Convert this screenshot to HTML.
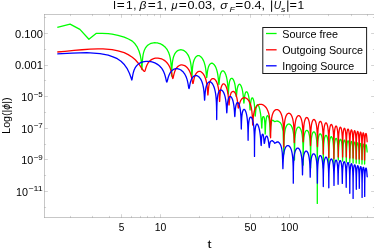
<!DOCTYPE html>
<html><head><meta charset="utf-8"><title>plot</title>
<style>html,body{margin:0;padding:0;background:#fff}body{width:374px;height:248px;overflow:hidden}svg{will-change:transform}</style></head>
<body>
<svg width="374" height="248" viewBox="0 0 374 248" style="display:block;font-family:'Liberation Sans',sans-serif">
<rect width="374" height="248" fill="#fff"/>
<path d="M44.5,14.5 L44.5,217.5 M44.0,217.5 L374.0,217.5 M44.0,14.5 L374.0,14.5" stroke="#000" stroke-opacity="0.22" stroke-width="1" fill="none"/>
<path d="M70.50,217.50 L70.50,215.90 M70.50,14.50 L70.50,16.10 M92.50,217.50 L92.50,215.90 M92.50,14.50 L92.50,16.10 M109.50,217.50 L109.50,215.90 M109.50,14.50 L109.50,16.10 M121.50,217.50 L121.50,214.20 M121.50,14.50 L121.50,17.80 M131.50,217.50 L131.50,215.90 M131.50,14.50 L131.50,16.10 M140.50,217.50 L140.50,215.90 M140.50,14.50 L140.50,16.10 M147.50,217.50 L147.50,215.90 M147.50,14.50 L147.50,16.10 M154.50,217.50 L154.50,215.90 M154.50,14.50 L154.50,16.10 M160.50,217.50 L160.50,214.20 M160.50,14.50 L160.50,17.80 M199.50,217.50 L199.50,215.90 M199.50,14.50 L199.50,16.10 M222.50,217.50 L222.50,215.90 M222.50,14.50 L222.50,16.10 M238.50,217.50 L238.50,215.90 M238.50,14.50 L238.50,16.10 M250.50,217.50 L250.50,214.20 M250.50,14.50 L250.50,17.80 M261.50,217.50 L261.50,215.90 M261.50,14.50 L261.50,16.10 M269.50,217.50 L269.50,215.90 M269.50,14.50 L269.50,16.10 M277.50,217.50 L277.50,215.90 M277.50,14.50 L277.50,16.10 M283.50,217.50 L283.50,215.90 M283.50,14.50 L283.50,16.10 M289.50,217.50 L289.50,214.20 M289.50,14.50 L289.50,17.80 M328.50,217.50 L328.50,215.90 M328.50,14.50 L328.50,16.10 M351.50,217.50 L351.50,215.90 M351.50,14.50 L351.50,16.10 M367.50,217.50 L367.50,215.90 M367.50,14.50 L367.50,16.10 M44.50,207.50 L46.10,207.50 M374.50,207.50 L372.90,207.50 M44.50,191.50 L47.90,191.50 M374.50,191.50 L371.10,191.50 M44.50,175.50 L46.10,175.50 M374.50,175.50 L372.90,175.50 M44.50,159.50 L47.90,159.50 M374.50,159.50 L371.10,159.50 M44.50,144.50 L46.10,144.50 M374.50,144.50 L372.90,144.50 M44.50,128.50 L47.90,128.50 M374.50,128.50 L371.10,128.50 M44.50,112.50 L46.10,112.50 M374.50,112.50 L372.90,112.50 M44.50,96.50 L47.90,96.50 M374.50,96.50 L371.10,96.50 M44.50,80.50 L46.10,80.50 M374.50,80.50 L372.90,80.50 M44.50,65.50 L47.90,65.50 M374.50,65.50 L371.10,65.50 M44.50,49.50 L46.10,49.50 M374.50,49.50 L372.90,49.50 M44.50,33.50 L47.90,33.50 M374.50,33.50 L371.10,33.50 M44.50,17.50 L46.10,17.50 M374.50,17.50 L372.90,17.50" stroke="#000" stroke-opacity="0.17" stroke-width="1" fill="none"/>
<g fill="none" stroke-linejoin="round" stroke-linecap="butt" stroke-width="1.3">
<path d="M57.30,27.30 L70.10,24.10 L79.90,29.40 L88.90,39.20 L96.40,33.30 L102.00,33.30 L108.20,33.60 L112.10,34.10 L118.00,35.30 L124.20,37.10 L128.50,39.00 L132.30,41.10 L135.00,43.80 L137.30,47.20 L139.00,51.00 L140.30,55.20 L141.10,60.00 L141.60,65.00 L141.90,69.50 L141.97,68.60 L142.20,63.51 L142.56,58.60 L143.07,54.94 L143.71,52.15 L144.46,49.95 L145.33,48.19 L146.30,46.77 L147.36,45.62 L148.49,44.70 L149.68,43.98 L150.92,43.44 L152.20,43.06 L153.50,42.84 L154.81,42.75 L156.12,42.79 L157.42,42.96 L158.70,43.26 L159.95,43.67 L161.16,44.20 L162.33,44.86 L163.45,45.63 L164.52,46.52 L165.52,47.54 L166.46,48.69 L167.32,49.98 L168.12,51.44 L168.84,53.09 L169.48,54.96 L170.03,57.12 L170.51,59.65 L170.90,62.72 L171.21,66.54 L171.42,71.33 L171.56,75.42 L171.60,76.00 L171.65,75.44 L171.79,71.42 L172.02,66.76 L172.33,63.11 L172.73,60.28 L173.22,58.01 L173.77,56.16 L174.39,54.65 L175.07,53.39 L175.81,52.36 L176.59,51.53 L177.40,50.87 L178.25,50.37 L179.12,50.02 L180.00,49.81 L180.89,49.75 L181.78,49.85 L182.66,50.08 L183.53,50.43 L184.38,50.91 L185.20,51.51 L186.00,52.22 L186.75,53.07 L187.47,54.04 L188.15,55.15 L188.77,56.41 L189.35,57.84 L189.87,59.45 L190.34,61.29 L190.75,63.40 L191.10,65.88 L191.38,68.80 L191.61,72.23 L191.77,75.64 L191.87,77.35 L191.90,77.50 L191.93,77.35 L192.03,75.68 L192.19,72.38 L192.41,69.11 L192.69,66.39 L193.02,64.14 L193.41,62.29 L193.85,60.76 L194.33,59.48 L194.85,58.42 L195.40,57.55 L195.98,56.86 L196.59,56.32 L197.21,55.94 L197.85,55.69 L198.49,55.58 L199.14,55.71 L199.79,56.01 L200.42,56.43 L201.05,56.98 L201.66,57.65 L202.25,58.44 L202.81,59.35 L203.35,60.38 L203.86,61.55 L204.33,62.85 L204.76,64.31 L205.16,65.94 L205.51,67.75 L205.82,69.76 L206.09,71.95 L206.31,74.19 L206.48,76.09 L206.60,77.17 L206.68,77.48 L206.70,77.50 L206.73,77.49 L206.80,77.24 L206.93,76.26 L207.11,74.55 L207.33,72.58 L207.61,70.71 L207.92,69.07 L208.27,67.67 L208.66,66.49 L209.08,65.53 L209.53,64.75 L210.01,64.14 L210.50,63.69 L211.01,63.39 L211.54,63.24 L212.07,63.21 L212.60,63.39 L213.13,63.70 L213.66,64.13 L214.18,64.68 L214.68,65.35 L215.17,66.15 L215.64,67.06 L216.09,68.10 L216.51,69.27 L216.91,70.58 L217.27,72.03 L217.60,73.64 L217.90,75.43 L218.16,77.40 L218.38,79.50 L218.57,81.57 L218.71,83.26 L218.82,84.19 L218.88,84.47 L218.90,84.50 L218.92,84.50 L218.98,84.32 L219.07,83.53 L219.21,82.04 L219.38,80.20 L219.58,78.40 L219.82,76.78 L220.08,75.38 L220.38,74.20 L220.70,73.23 L221.04,72.43 L221.40,71.81 L221.78,71.35 L222.17,71.03 L222.57,70.86 L222.98,70.82 L223.39,70.98 L223.80,71.27 L224.20,71.68 L224.61,72.22 L225.00,72.88 L225.38,73.66 L225.74,74.56 L226.09,75.59 L226.42,76.76 L226.73,78.06 L227.02,79.52 L227.28,81.16 L227.51,82.98 L227.72,85.04 L227.89,87.32 L228.04,89.75 L228.15,92.01 L228.23,93.48 L228.28,93.95 L228.30,94.00 L228.32,93.98 L228.37,93.58 L228.45,92.25 L228.56,90.18 L228.70,88.00 L228.87,86.02 L229.07,84.32 L229.30,82.88 L229.55,81.69 L229.82,80.70 L230.10,79.91 L230.41,79.29 L230.73,78.84 L231.06,78.53 L231.40,78.37 L231.74,78.32 L232.09,78.39 L232.44,78.59 L232.79,78.92 L233.13,79.37 L233.47,79.94 L233.79,80.64 L234.11,81.46 L234.40,82.41 L234.69,83.49 L234.95,84.71 L235.20,86.07 L235.42,87.59 L235.62,89.26 L235.80,91.05 L235.95,92.89 L236.07,94.56 L236.17,95.76 L236.24,96.33 L236.29,96.49 L236.30,96.50 L236.32,96.50 L236.36,96.39 L236.44,95.89 L236.54,94.84 L236.68,93.37 L236.84,91.78 L237.03,90.27 L237.24,88.93 L237.48,87.77 L237.74,86.79 L238.01,85.98 L238.30,85.34 L238.60,84.85 L238.92,84.51 L239.24,84.30 L239.57,84.23 L239.90,84.32 L240.23,84.62 L240.56,85.04 L240.88,85.59 L241.20,86.25 L241.51,87.04 L241.81,87.94 L242.09,88.97 L242.36,90.12 L242.62,91.41 L242.85,92.82 L243.06,94.38 L243.25,96.06 L243.42,97.84 L243.57,99.62 L243.69,101.18 L243.78,102.28 L243.85,102.82 L243.89,102.98 L243.90,103.00 L243.91,103.01 L243.95,102.93 L244.01,102.53 L244.10,101.63 L244.21,100.31 L244.34,98.83 L244.49,97.41 L244.66,96.12 L244.85,95.00 L245.06,94.07 L245.28,93.30 L245.52,92.70 L245.76,92.25 L246.02,91.94 L246.28,91.78 L246.55,91.75 L246.82,91.85 L247.09,92.08 L247.35,92.43 L247.62,92.90 L247.88,93.50 L248.14,94.22 L248.38,95.06 L248.61,96.03 L248.83,97.13 L249.04,98.36 L249.23,99.73 L249.41,101.25 L249.57,102.91 L249.71,104.68 L249.82,106.48 L249.92,108.09 L250.00,109.24 L250.06,109.81 L250.09,109.98 L250.10,110.00 L250.11,110.00 L250.14,109.91 L250.19,109.45 L250.26,108.46 L250.35,107.05 L250.46,105.49 L250.58,104.00 L250.72,102.66 L250.88,101.49 L251.05,100.50 L251.23,99.69 L251.42,99.03 L251.62,98.53 L251.83,98.17 L252.04,97.95 L252.26,97.86 L252.49,97.92 L252.71,98.11 L252.93,98.44 L253.15,98.88 L253.36,99.45 L253.57,100.14 L253.77,100.96 L253.97,101.91 L254.15,102.98 L254.32,104.20 L254.48,105.55 L254.63,107.06 L254.76,108.72 L254.87,110.50 L254.97,112.33 L255.05,113.99 L255.12,115.20 L255.16,115.80 L255.19,115.98 L255.20,116.00 L255.21,116.01 L255.25,115.91 L255.32,115.44 L255.41,114.41 L255.53,112.98 L255.67,111.43 L255.83,109.97 L256.01,108.68 L256.22,107.58 L256.44,106.66 L256.67,105.92 L256.92,105.35 L257.19,104.93 L257.46,104.67 L257.74,104.54 L258.02,104.69 L258.31,105.16 L258.60,105.75 L258.88,106.47 L259.17,107.31 L259.44,108.27 L259.71,109.33 L259.97,110.51 L260.22,111.80 L260.46,113.20 L260.68,114.72 L260.88,116.36 L261.07,118.12 L261.23,120.01 L261.38,121.99 L261.51,123.98 L261.61,125.77 L261.69,127.07 L261.75,127.74 L261.79,127.96 L261.80,128.00 L261.81,128.01 L261.83,127.94 L261.86,127.50 L261.91,126.50 L261.96,125.08 L262.03,123.53 L262.12,122.07 L262.21,120.77 L262.31,119.66 L262.42,118.74 L262.54,118.00 L262.67,117.43 L262.80,117.01 L262.94,116.74 L263.08,116.62 L263.23,116.64 L263.38,116.78 L263.53,116.71 L263.67,116.70 L263.82,116.82 L263.96,117.07 L264.10,117.45 L264.24,117.98 L264.37,118.64 L264.49,119.46 L264.61,120.44 L264.71,121.59 L264.81,122.94 L264.90,124.51 L264.98,126.31 L265.05,128.35 L265.10,130.51 L265.14,132.45 L265.17,133.62 L265.19,133.97 L265.20,134.00 L265.21,133.97 L265.24,133.62 L265.29,132.42 L265.36,130.43 L265.44,128.19 L265.55,126.06 L265.67,124.15 L265.81,122.46 L265.96,120.98 L266.13,119.69 L266.30,118.56 L266.49,117.59 L266.69,116.85 L266.89,116.36 L267.11,116.00 L267.32,115.78 L267.54,115.69 L267.76,115.73 L267.97,115.90 L268.19,116.19 L268.40,116.61 L268.60,117.16 L268.80,117.84 L268.99,118.67 L269.17,119.63 L269.34,120.75 L269.50,122.04 L269.64,123.52 L269.77,125.22 L269.88,127.16 L269.98,129.35 L270.06,131.74 L270.12,134.00 L270.16,135.49 L270.19,135.96 L270.20,136.00 L270.80,126.00 L271.80,120.20 L273.00,120.40 L274.80,121.70 L276.80,121.00 L278.60,121.40 L280.40,122.80 L281.80,125.30 L283.10,131.00 L283.80,154.00 L283.82,152.90 L283.89,147.31 L284.00,142.24 L284.15,138.47 L284.35,135.56 L284.58,133.22 L284.86,131.31 L285.16,129.71 L285.50,128.37 L285.87,127.26 L286.26,126.33 L286.67,125.58 L287.10,124.98 L287.55,124.53 L288.01,124.23 L288.47,124.05 L288.94,124.01 L289.41,124.10 L289.87,124.31 L290.32,124.64 L290.77,125.11 L291.20,125.70 L291.62,126.42 L292.01,127.29 L292.38,128.29 L292.73,129.46 L293.06,130.79 L293.35,132.33 L293.61,134.11 L293.84,136.19 L294.04,138.67 L294.21,141.71 L294.33,145.60 L294.43,150.95 L294.48,157.95 L294.50,160.00 L294.52,157.96 L294.57,151.00 L294.66,145.71 L294.78,141.89 L294.94,138.95 L295.13,136.60 L295.34,134.66 L295.59,133.04 L295.86,131.68 L296.16,130.54 L296.47,129.58 L296.80,128.80 L297.15,128.17 L297.51,127.69 L297.88,127.35 L298.26,127.15 L298.64,127.08 L299.02,127.17 L299.40,127.40 L299.77,127.74 L300.13,128.22 L300.48,128.82 L300.82,129.56 L301.15,130.43 L301.46,131.45 L301.74,132.62 L302.01,133.97 L302.25,135.52 L302.47,137.30 L302.66,139.39 L302.82,141.87 L302.96,144.92 L303.06,148.84 L303.14,154.26 L303.18,162.03 L303.20,165.00 L303.22,162.04 L303.26,154.31 L303.33,148.95 L303.44,145.12 L303.57,142.19 L303.73,139.84 L303.91,137.91 L304.12,136.30 L304.35,134.95 L304.60,133.81 L304.86,132.87 L305.14,132.10 L305.44,131.49 L305.74,131.02 L306.06,130.70 L306.38,130.51 L306.70,130.40 L307.02,130.40 L307.34,130.53 L307.66,130.78 L307.97,131.17 L308.27,131.68 L308.56,132.33 L308.84,133.12 L309.10,134.06 L309.35,135.16 L309.58,136.44 L309.78,137.93 L309.97,139.66 L310.13,141.70 L310.27,144.15 L310.39,147.16 L310.48,151.05 L310.55,156.49 L310.59,164.53 L310.60,168.00 L310.61,164.56 L310.65,156.52 L310.72,151.10 L310.81,147.24 L310.93,144.27 L311.07,141.89 L311.24,139.91 L311.43,138.25 L311.63,136.84 L311.86,135.65 L312.10,134.64 L312.35,133.81 L312.62,133.12 L312.89,132.58 L313.18,132.18 L313.47,131.91 L313.76,131.78 L314.05,131.81 L314.34,131.97 L314.63,132.26 L314.91,132.67 L315.18,133.22 L315.45,133.90 L315.70,134.71 L315.94,135.68 L316.16,136.80 L316.37,138.11 L316.56,139.62 L316.73,141.37 L316.88,143.42 L317.00,145.88 L317.11,148.91 L317.19,152.83 L317.25,158.37 L317.29,167.83 L317.30,203.40 L317.31,167.84 L317.35,158.40 L317.41,152.90 L317.49,149.03 L317.60,146.07 L317.72,143.70 L317.87,141.74 L318.04,140.09 L318.22,138.71 L318.42,137.53 L318.63,136.55 L318.86,135.74 L319.10,135.08 L319.35,134.56 L319.60,134.19 L319.86,133.95 L320.12,133.84 L320.38,133.85 L320.64,133.98 L320.90,134.24 L321.15,134.63 L321.40,135.16 L321.63,135.81 L321.86,136.61 L322.07,137.56 L322.27,138.66 L322.46,139.95 L322.63,141.44 L322.78,143.18 L322.92,145.22 L323.03,147.66 L323.13,150.68 L323.20,154.55 L323.26,159.83 L323.29,166.38 L323.30,168.00 L323.31,166.34 L323.34,159.83 L323.40,154.59 L323.47,150.76 L323.57,147.80 L323.69,145.42 L323.82,143.45 L323.97,141.80 L324.14,140.40 L324.32,139.21 L324.52,138.21 L324.73,137.37 L324.94,136.70 L325.17,136.16 L325.40,135.77 L325.64,135.51 L325.88,135.38 L326.12,135.38 L326.36,135.50 L326.59,135.75 L326.82,136.13 L327.05,136.65 L327.27,137.29 L327.47,138.08 L327.67,139.02 L327.86,140.12 L328.03,141.39 L328.18,142.88 L328.32,144.61 L328.45,146.64 L328.55,149.08 L328.64,152.08 L328.71,155.92 L328.76,161.07 L328.79,166.82 L328.80,168.00 L328.81,166.81 L328.84,161.08 L328.89,155.96 L328.96,152.15 L329.05,149.20 L329.16,146.82 L329.28,144.84 L329.42,143.18 L329.58,141.77 L329.75,140.58 L329.93,139.57 L330.12,138.73 L330.32,138.04 L330.53,137.50 L330.74,137.10 L330.96,136.83 L331.19,136.69 L331.41,136.68 L331.63,136.81 L331.85,137.09 L332.06,137.49 L332.27,138.03 L332.47,138.70 L332.67,139.51 L332.85,140.46 L333.02,141.58 L333.18,142.88 L333.33,144.38 L333.46,146.12 L333.57,148.16 L333.67,150.60 L333.75,153.57 L333.82,157.30 L333.86,161.90 L333.89,165.54 L333.90,166.00 L333.91,165.53 L333.93,161.90 L333.98,157.35 L334.04,153.67 L334.11,150.76 L334.21,148.40 L334.31,146.44 L334.43,144.79 L334.57,143.40 L334.71,142.22 L334.87,141.23 L335.03,140.40 L335.21,139.73 L335.39,139.20 L335.57,138.82 L335.76,138.56 L335.95,138.44 L336.14,138.43 L336.33,138.53 L336.52,138.76 L336.71,139.12 L336.89,139.61 L337.06,140.24 L337.23,141.01 L337.39,141.92 L337.54,143.00 L337.68,144.26 L337.80,145.71 L337.92,147.40 L338.02,149.36 L338.10,151.65 L338.17,154.28 L338.23,157.05 L338.27,159.20 L338.29,159.95 L338.30,160.00 L338.31,159.94 L338.33,159.17 L338.38,157.03 L338.43,154.29 L338.51,151.71 L338.60,149.46 L338.70,147.54 L338.82,145.90 L338.95,144.50 L339.09,143.30 L339.24,142.29 L339.41,141.44 L339.58,140.73 L339.75,140.18 L339.93,139.76 L340.12,139.47 L340.30,139.32 L340.49,139.29 L340.68,139.39 L340.86,139.62 L341.04,139.98 L341.22,140.47 L341.39,141.10 L341.56,141.87 L341.71,142.78 L341.86,143.86 L341.99,145.11 L342.11,146.56 L342.22,148.25 L342.32,150.21 L342.41,152.50 L342.48,155.12 L342.53,157.92 L342.57,160.13 L342.59,160.94 L342.60,161.00 L342.61,160.94 L342.63,160.14 L342.67,157.95 L342.72,155.17 L342.78,152.57 L342.86,150.32 L342.94,148.39 L343.05,146.75 L343.16,145.34 L343.28,144.14 L343.41,143.12 L343.55,142.26 L343.69,141.56 L343.84,141.00 L344.00,140.57 L344.16,140.28 L344.32,140.12 L344.48,140.09 L344.64,140.19 L344.80,140.41 L344.96,140.76 L345.11,141.25 L345.26,141.87 L345.40,142.63 L345.53,143.55 L345.66,144.62 L345.77,145.87 L345.88,147.32 L345.98,149.01 L346.06,150.97 L346.13,153.26 L346.19,155.91 L346.24,158.76 L346.27,161.07 L346.29,161.93 L346.30,162.00 L346.31,161.93 L346.33,161.08 L346.36,158.79 L346.41,155.96 L346.47,153.33 L346.54,151.07 L346.63,149.14 L346.72,147.49 L346.83,146.08 L346.94,144.88 L347.06,143.85 L347.20,142.99 L347.33,142.29 L347.48,141.72 L347.62,141.30 L347.77,141.01 L347.92,140.84 L348.08,140.81 L348.23,140.90 L348.38,141.13 L348.53,141.48 L348.67,141.96 L348.81,142.58 L348.95,143.34 L349.07,144.25 L349.19,145.32 L349.30,146.57 L349.40,148.02 L349.49,149.71 L349.57,151.66 L349.64,153.95 L349.70,156.58 L349.74,159.39 L349.77,161.62 L349.79,162.44 L349.80,162.50 L349.81,162.44 L349.83,161.62 L349.86,159.41 L349.90,156.62 L349.96,154.01 L350.03,151.75 L350.11,149.83 L350.20,148.18 L350.30,146.77 L350.40,145.57 L350.52,144.54 L350.64,143.68 L350.77,142.97 L350.91,142.41 L351.05,141.98 L351.19,141.69 L351.33,141.52 L351.47,141.49 L351.62,141.58 L351.76,141.80 L351.90,142.15 L352.04,142.64 L352.17,143.25 L352.29,144.01 L352.41,144.92 L352.52,145.99 L352.63,147.24 L352.72,148.68 L352.81,150.36 L352.88,152.32 L352.95,154.60 L353.00,157.21 L353.05,159.98 L353.08,162.15 L353.09,162.94 L353.10,163.00 L353.11,162.94 L353.12,162.16 L353.15,160.00 L353.20,157.25 L353.25,154.65 L353.31,152.40 L353.39,150.48 L353.47,148.83 L353.56,147.42 L353.67,146.22 L353.78,145.19 L353.89,144.33 L354.01,143.62 L354.14,143.06 L354.27,142.63 L354.40,142.33 L354.54,142.16 L354.67,142.13 L354.81,142.22 L354.94,142.44 L355.07,142.79 L355.20,143.27 L355.32,143.88 L355.44,144.64 L355.55,145.55 L355.66,146.61 L355.76,147.86 L355.85,149.30 L355.93,150.97 L356.00,152.91 L356.06,155.16 L356.11,157.71 L356.15,160.34 L356.18,162.28 L356.19,162.95 L356.20,163.00 L356.21,162.95 L356.22,162.28 L356.25,160.35 L356.29,157.75 L356.34,155.22 L356.41,152.99 L356.48,151.08 L356.56,149.44 L356.65,148.03 L356.75,146.83 L356.85,145.81 L356.97,144.94 L357.08,144.24 L357.20,143.68 L357.33,143.25 L357.46,142.96 L357.59,142.80 L357.72,142.77 L357.85,142.86 L357.98,143.09 L358.11,143.44 L358.23,143.93 L358.35,144.55 L358.46,145.31 L358.57,146.22 L358.68,147.29 L358.77,148.54 L358.86,149.98 L358.94,151.65 L359.00,153.59 L359.06,155.83 L359.11,158.36 L359.15,160.94 L359.18,162.81 L359.19,163.45 L359.20,163.50 L359.21,163.45 L359.22,162.82 L359.25,160.96 L359.29,158.40 L359.33,155.90 L359.39,153.69 L359.46,151.78 L359.53,150.14 L359.62,148.74 L359.71,147.54 L359.81,146.52 L359.91,145.66 L360.02,144.96 L360.14,144.39 L360.25,143.97 L360.37,143.67 L360.50,143.51 L360.62,143.48 L360.74,143.57 L360.86,143.79 L360.98,144.14 L361.09,144.63 L361.21,145.24 L361.31,146.00 L361.41,146.91 L361.51,147.98 L361.60,149.22 L361.68,150.67 L361.75,152.34 L361.82,154.27 L361.87,156.50 L361.92,159.01 L361.95,161.53 L361.98,163.35 L361.99,163.95 L362.00,164.00 L362.01,163.96 L362.02,163.35 L362.05,161.55 L362.08,159.04 L362.12,156.56 L362.18,154.35 L362.24,152.45 L362.31,150.82 L362.39,149.42 L362.47,148.21 L362.56,147.19 L362.66,146.33 L362.76,145.62 L362.87,145.06 L362.98,144.63 L363.09,144.33 L363.20,144.17 L363.32,144.13 L363.43,144.23 L363.54,144.44 L363.65,144.79 L363.76,145.28 L363.86,145.89 L363.96,146.65 L364.06,147.55 L364.14,148.62 L364.23,149.86 L364.30,151.29 L364.37,152.95 L364.43,154.87 L364.48,157.06 L364.52,159.49 L364.56,161.85 L364.58,163.45 L364.60,163.96 L364.60,164.00 L364.61,163.94 L364.62,163.38 L364.65,161.75 L364.68,159.42 L364.73,157.04 L364.78,154.89 L364.85,153.01 L364.92,151.40 L365.00,150.01 L365.09,148.81 L365.19,147.79 L365.29,146.94 L365.39,146.23 L365.50,145.66 L365.62,145.23 L365.73,144.94 L365.85,144.77 L365.97,144.72 L366.08,144.80 L366.20,145.00 L366.31,145.32 L366.43,145.76 L366.53,146.32 L366.64,146.98 L366.74,147.74 L366.83,148.57 L366.91,149.44 L366.99,150.28 L367.06,151.03 L367.12,151.61 L367.18,151.96 L367.22,152.12 L367.26,152.13 L367.28,152.08 L367.29,152.02 L367.30,152.00" stroke="#00ff00"/>
<path d="M57.30,52.00 L65.00,51.30 L74.00,50.40 L82.00,49.75 L90.00,49.20 L98.00,48.85 L103.00,48.85 L106.00,49.05 L112.10,49.60 L118.10,50.80 L124.20,52.70 L128.20,54.60 L132.30,57.20 L135.30,59.80 L138.30,63.20 L140.30,66.20 L142.30,69.30 L143.60,70.80 L144.60,71.30 L144.67,71.30 L144.88,71.09 L145.22,70.22 L145.69,68.65 L146.29,66.79 L147.00,65.00 L147.82,63.43 L148.73,62.09 L149.73,60.99 L150.79,60.08 L151.92,59.37 L153.09,58.82 L154.29,58.43 L155.52,58.19 L156.76,58.09 L158.01,58.12 L159.24,58.28 L160.46,58.56 L161.65,58.95 L162.80,59.47 L163.92,60.11 L164.99,60.86 L166.01,61.73 L166.97,62.73 L167.86,63.86 L168.70,65.12 L169.46,66.53 L170.15,68.10 L170.76,69.85 L171.30,71.76 L171.75,73.80 L172.13,75.79 L172.42,77.37 L172.63,78.23 L172.76,78.47 L172.80,78.50 L172.85,78.50 L172.98,78.31 L173.21,77.57 L173.52,76.15 L173.92,74.38 L174.40,72.61 L174.94,71.01 L175.56,69.61 L176.23,68.43 L176.96,67.44 L177.73,66.63 L178.54,65.99 L179.38,65.50 L180.24,65.15 L181.11,64.95 L181.99,64.89 L182.87,65.02 L183.75,65.27 L184.61,65.64 L185.45,66.14 L186.26,66.75 L187.05,67.48 L187.80,68.34 L188.51,69.32 L189.18,70.42 L189.80,71.66 L190.37,73.04 L190.89,74.57 L191.35,76.25 L191.76,78.04 L192.10,79.87 L192.39,81.53 L192.61,82.73 L192.77,83.32 L192.87,83.48 L192.90,83.50 L192.93,83.51 L193.03,83.43 L193.19,82.98 L193.42,81.96 L193.70,80.50 L194.04,78.91 L194.43,77.40 L194.88,76.04 L195.36,74.87 L195.89,73.89 L196.45,73.07 L197.04,72.42 L197.66,71.92 L198.29,71.56 L198.94,71.35 L199.59,71.28 L200.25,71.45 L200.90,71.74 L201.55,72.15 L202.18,72.69 L202.80,73.35 L203.39,74.13 L203.97,75.03 L204.51,76.06 L205.02,77.22 L205.50,78.52 L205.94,79.98 L206.34,81.61 L206.70,83.44 L207.01,85.50 L207.28,87.81 L207.50,90.33 L207.68,92.74 L207.80,94.38 L207.87,94.94 L207.90,95.00 L207.92,94.98 L208.00,94.53 L208.12,93.03 L208.29,90.80 L208.51,88.51 L208.76,86.48 L209.06,84.75 L209.40,83.29 L209.77,82.07 L210.18,81.07 L210.61,80.26 L211.06,79.63 L211.54,79.15 L212.02,78.83 L212.53,78.65 L213.03,78.60 L213.54,78.67 L214.05,78.85 L214.56,79.16 L215.06,79.59 L215.54,80.15 L216.01,80.83 L216.47,81.64 L216.90,82.57 L217.30,83.65 L217.68,84.88 L218.03,86.27 L218.35,87.84 L218.64,89.63 L218.89,91.66 L219.10,93.97 L219.28,96.52 L219.42,99.06 L219.52,100.84 L219.58,101.45 L219.60,101.50 L219.62,101.46 L219.68,100.90 L219.77,99.21 L219.91,96.81 L220.08,94.42 L220.28,92.32 L220.52,90.52 L220.78,89.01 L221.08,87.73 L221.40,86.66 L221.74,85.78 L222.10,85.07 L222.48,84.52 L222.87,84.12 L223.27,83.85 L223.68,83.79 L224.09,83.94 L224.50,84.22 L224.90,84.62 L225.31,85.15 L225.70,85.80 L226.08,86.57 L226.44,87.46 L226.79,88.48 L227.12,89.63 L227.43,90.92 L227.72,92.37 L227.98,93.97 L228.21,95.76 L228.42,97.73 L228.59,99.85 L228.74,101.97 L228.85,103.72 L228.93,104.69 L228.98,104.97 L229.00,105.00 L229.02,104.99 L229.08,104.77 L229.17,103.92 L229.30,102.37 L229.47,100.52 L229.67,98.72 L229.91,97.13 L230.17,95.77 L230.46,94.63 L230.78,93.69 L231.12,92.94 L231.47,92.37 L231.85,91.95 L232.23,91.69 L232.63,91.56 L233.03,91.45 L233.44,91.48 L233.84,91.63 L234.25,91.91 L234.64,92.31 L235.03,92.84 L235.41,93.49 L235.77,94.26 L236.12,95.17 L236.44,96.20 L236.75,97.37 L237.03,98.68 L237.29,100.13 L237.52,101.72 L237.72,103.39 L237.90,105.04 L238.04,106.47 L238.15,107.43 L238.23,107.87 L238.28,107.99 L238.30,108.00 L238.33,108.03 L238.42,108.03 L238.58,107.76 L238.79,107.01 L239.06,105.81 L239.39,104.41 L239.77,103.02 L240.19,101.77 L240.65,100.69 L241.16,99.80 L241.70,99.07 L242.26,98.51 L242.85,98.11 L243.46,97.85 L244.08,97.73 L244.70,97.75 L245.33,97.90 L245.96,98.15 L246.58,98.46 L247.19,98.90 L247.78,99.46 L248.36,100.14 L248.91,100.95 L249.43,101.89 L249.92,102.98 L250.38,104.21 L250.81,105.61 L251.19,107.20 L251.54,109.02 L251.84,111.11 L252.10,113.56 L252.32,116.46 L252.48,119.83 L252.60,123.16 L252.68,124.83 L252.70,125.00 L252.74,124.89 L252.86,123.33 L253.06,120.12 L253.33,116.90 L253.68,114.22 L254.10,112.03 L254.58,110.24 L255.11,108.77 L255.71,107.56 L256.35,106.58 L257.03,105.80 L257.74,105.20 L258.48,104.75 L259.24,104.46 L260.02,104.31 L260.80,104.30 L261.58,104.42 L262.36,104.65 L263.13,104.97 L263.88,105.41 L264.61,105.98 L265.32,106.67 L265.99,107.49 L266.63,108.43 L267.23,109.52 L267.79,110.76 L268.31,112.17 L268.78,113.77 L269.20,115.60 L269.56,117.72 L269.88,120.23 L270.14,123.28 L270.34,127.13 L270.48,132.12 L270.57,136.98 L270.60,137.80 L270.63,137.02 L270.71,132.21 L270.85,127.31 L271.05,123.59 L271.29,120.71 L271.59,118.40 L271.93,116.51 L272.31,114.94 L272.74,113.63 L273.20,112.55 L273.69,111.66 L274.20,110.94 L274.74,110.38 L275.29,109.97 L275.86,109.70 L276.44,109.57 L277.01,109.57 L277.59,109.68 L278.16,109.93 L278.72,110.29 L279.26,110.79 L279.79,111.41 L280.30,112.16 L280.78,113.05 L281.23,114.08 L281.66,115.27 L282.05,116.63 L282.41,118.18 L282.73,119.98 L283.01,122.08 L283.25,124.56 L283.44,127.61 L283.60,131.53 L283.71,136.93 L283.78,144.42 L283.80,147.00 L283.82,144.43 L283.89,136.99 L284.00,131.65 L284.15,127.83 L284.34,124.91 L284.57,122.56 L284.83,120.64 L285.13,119.04 L285.47,117.70 L285.83,116.57 L286.21,115.64 L286.62,114.88 L287.04,114.27 L287.48,113.82 L287.92,113.50 L288.38,113.32 L288.84,113.25 L289.30,113.29 L289.75,113.47 L290.20,113.77 L290.63,114.20 L291.06,114.76 L291.47,115.46 L291.85,116.29 L292.22,117.27 L292.56,118.40 L292.88,119.72 L293.17,121.23 L293.43,122.99 L293.65,125.04 L293.85,127.49 L294.01,130.46 L294.14,134.18 L294.23,138.69 L294.28,142.09 L294.30,142.50 L294.32,142.09 L294.37,138.70 L294.46,134.25 L294.59,130.60 L294.75,127.70 L294.94,125.35 L295.17,123.41 L295.42,121.78 L295.70,120.40 L296.00,119.24 L296.32,118.27 L296.66,117.47 L297.02,116.82 L297.39,116.31 L297.77,115.95 L298.15,115.72 L298.54,115.62 L298.93,115.65 L299.31,115.80 L299.69,116.08 L300.06,116.49 L300.43,117.03 L300.77,117.71 L301.10,118.52 L301.42,119.48 L301.71,120.60 L301.98,121.89 L302.23,123.39 L302.45,125.13 L302.65,127.16 L302.81,129.57 L302.95,132.46 L303.06,135.94 L303.14,139.60 L303.18,141.61 L303.20,141.80 L303.21,141.62 L303.26,139.63 L303.33,136.00 L303.43,132.57 L303.56,129.74 L303.72,127.41 L303.90,125.46 L304.10,123.82 L304.33,122.44 L304.58,121.26 L304.84,120.27 L305.12,119.44 L305.41,118.78 L305.71,118.25 L306.02,117.87 L306.33,117.62 L306.65,117.50 L306.97,117.53 L307.29,117.68 L307.60,117.96 L307.90,118.37 L308.20,118.91 L308.49,119.58 L308.76,120.39 L309.02,121.35 L309.26,122.47 L309.49,123.77 L309.69,125.27 L309.88,127.01 L310.04,129.05 L310.18,131.48 L310.29,134.42 L310.38,138.06 L310.45,142.30 L310.49,145.18 L310.50,145.50 L310.51,145.19 L310.56,142.33 L310.63,138.13 L310.72,134.54 L310.85,131.66 L311.00,129.32 L311.17,127.37 L311.37,125.73 L311.58,124.35 L311.82,123.18 L312.07,122.20 L312.33,121.39 L312.61,120.73 L312.90,120.21 L313.20,119.84 L313.50,119.60 L313.80,119.49 L314.11,119.52 L314.41,119.67 L314.71,119.95 L315.01,120.36 L315.29,120.90 L315.57,121.57 L315.83,122.39 L316.08,123.35 L316.31,124.47 L316.53,125.76 L316.72,127.26 L316.90,129.00 L317.06,131.04 L317.19,133.46 L317.30,136.38 L317.39,139.94 L317.45,143.88 L317.49,146.26 L317.50,146.50 L317.51,146.28 L317.55,143.92 L317.60,140.01 L317.68,136.50 L317.79,133.64 L317.91,131.29 L318.05,129.34 L318.21,127.70 L318.39,126.31 L318.58,125.13 L318.79,124.14 L319.01,123.32 L319.24,122.65 L319.48,122.12 L319.72,121.74 L319.97,121.49 L320.22,121.37 L320.48,121.37 L320.73,121.51 L320.98,121.77 L321.22,122.16 L321.46,122.68 L321.69,123.33 L321.91,124.13 L322.11,125.07 L322.31,126.18 L322.49,127.46 L322.65,128.96 L322.80,130.69 L322.93,132.73 L323.04,135.17 L323.13,138.17 L323.21,142.01 L323.26,147.15 L323.29,152.84 L323.30,154.00 L323.31,152.85 L323.34,147.18 L323.40,142.07 L323.47,138.26 L323.57,135.31 L323.69,132.94 L323.82,130.97 L323.97,129.31 L324.14,127.91 L324.32,126.73 L324.52,125.73 L324.73,124.89 L324.94,124.22 L325.17,123.68 L325.40,123.29 L325.64,123.03 L325.88,122.90 L326.12,122.91 L326.36,123.04 L326.59,123.31 L326.82,123.70 L327.05,124.22 L327.27,124.88 L327.47,125.68 L327.67,126.63 L327.86,127.74 L328.03,129.03 L328.18,130.52 L328.32,132.26 L328.45,134.30 L328.55,136.75 L328.64,139.76 L328.71,143.63 L328.76,148.93 L328.79,155.67 L328.80,157.50 L328.81,155.68 L328.84,148.95 L328.89,143.69 L328.96,139.85 L329.05,136.90 L329.16,134.52 L329.28,132.55 L329.42,130.89 L329.58,129.50 L329.75,128.31 L329.93,127.31 L330.12,126.48 L330.32,125.80 L330.53,125.27 L330.74,124.88 L330.96,124.63 L331.19,124.50 L331.41,124.50 L331.63,124.64 L331.85,124.90 L332.06,125.30 L332.27,125.82 L332.47,126.48 L332.67,127.28 L332.85,128.23 L333.02,129.34 L333.18,130.63 L333.33,132.12 L333.46,133.86 L333.57,135.90 L333.67,138.35 L333.75,141.35 L333.82,145.22 L333.86,150.48 L333.89,156.91 L333.90,158.50 L333.91,156.91 L333.93,150.50 L333.98,145.27 L334.04,141.45 L334.11,138.49 L334.21,136.11 L334.31,134.14 L334.43,132.48 L334.57,131.08 L334.71,129.89 L334.87,128.89 L335.03,128.05 L335.21,127.37 L335.39,126.84 L335.57,126.44 L335.76,126.18 L335.95,126.05 L336.14,126.04 L336.33,126.15 L336.52,126.40 L336.71,126.77 L336.89,127.27 L337.06,127.91 L337.23,128.70 L337.39,129.63 L337.54,130.72 L337.68,131.99 L337.80,133.47 L337.92,135.20 L338.02,137.22 L338.10,139.65 L338.17,142.64 L338.23,146.44 L338.27,151.39 L338.29,156.21 L338.30,157.00 L338.31,156.21 L338.33,151.40 L338.38,146.48 L338.43,142.71 L338.51,139.76 L338.60,137.38 L338.70,135.40 L338.82,133.74 L338.95,132.33 L339.09,131.13 L339.24,130.12 L339.41,129.27 L339.58,128.58 L339.75,128.04 L339.93,127.63 L340.12,127.35 L340.30,127.21 L340.49,127.20 L340.68,127.31 L340.86,127.55 L341.04,127.93 L341.22,128.43 L341.39,129.07 L341.56,129.85 L341.71,130.78 L341.86,131.87 L341.99,133.14 L342.11,134.62 L342.22,136.34 L342.32,138.37 L342.41,140.80 L342.48,143.77 L342.53,147.53 L342.57,152.28 L342.59,156.42 L342.60,157.00 L342.61,156.42 L342.63,152.30 L342.67,147.56 L342.72,143.83 L342.78,140.90 L342.86,138.51 L342.94,136.54 L343.05,134.87 L343.16,133.46 L343.28,132.25 L343.41,131.24 L343.55,130.38 L343.69,129.69 L343.84,129.13 L344.00,128.72 L344.16,128.44 L344.32,128.29 L344.48,128.27 L344.64,128.37 L344.80,128.60 L344.96,128.96 L345.11,129.45 L345.26,130.08 L345.40,130.84 L345.53,131.76 L345.66,132.84 L345.77,134.10 L345.88,135.57 L345.98,137.28 L346.06,139.30 L346.13,141.72 L346.19,144.67 L346.24,148.38 L346.27,152.95 L346.29,156.54 L346.30,157.00 L346.31,156.55 L346.33,152.96 L346.36,148.41 L346.41,144.72 L346.47,141.79 L346.54,139.41 L346.63,137.43 L346.72,135.76 L346.83,134.34 L346.94,133.13 L347.06,132.10 L347.20,131.24 L347.33,130.54 L347.48,129.98 L347.62,129.55 L347.77,129.26 L347.92,129.10 L348.08,129.07 L348.23,129.17 L348.38,129.40 L348.53,129.76 L348.67,130.25 L348.81,130.88 L348.95,131.65 L349.07,132.57 L349.19,133.65 L349.30,134.91 L349.40,136.38 L349.49,138.09 L349.57,140.11 L349.64,142.53 L349.70,145.48 L349.74,149.21 L349.77,153.81 L349.79,157.52 L349.80,158.00 L349.81,157.52 L349.83,153.82 L349.86,149.23 L349.90,145.53 L349.96,142.60 L350.03,140.22 L350.11,138.24 L350.20,136.57 L350.30,135.15 L350.40,133.94 L350.52,132.92 L350.64,132.06 L350.77,131.35 L350.91,130.79 L351.05,130.37 L351.19,130.08 L351.33,129.92 L351.47,129.89 L351.62,129.99 L351.76,130.22 L351.90,130.58 L352.04,131.07 L352.17,131.70 L352.29,132.47 L352.41,133.39 L352.52,134.47 L352.63,135.73 L352.72,137.20 L352.81,138.91 L352.88,140.93 L352.95,143.34 L353.00,146.29 L353.05,149.96 L353.08,154.37 L353.09,157.62 L353.10,158.00 L353.11,157.62 L353.12,154.39 L353.15,149.99 L353.20,146.33 L353.25,143.42 L353.31,141.04 L353.39,139.06 L353.47,137.39 L353.56,135.97 L353.67,134.77 L353.78,133.74 L353.89,132.88 L354.01,132.18 L354.14,131.62 L354.27,131.19 L354.40,130.91 L354.54,130.75 L354.67,130.72 L354.81,130.81 L354.94,131.04 L355.07,131.39 L355.20,131.88 L355.32,132.50 L355.44,133.27 L355.55,134.18 L355.66,135.26 L355.76,136.52 L355.85,137.99 L355.93,139.70 L356.00,141.71 L356.06,144.12 L356.11,147.07 L356.15,150.76 L356.18,155.22 L356.19,158.59 L356.20,159.00 L356.21,158.59 L356.22,155.23 L356.25,150.78 L356.29,147.11 L356.34,144.19 L356.41,141.81 L356.48,139.83 L356.56,138.16 L356.65,136.74 L356.75,135.52 L356.85,134.50 L356.97,133.64 L357.08,132.93 L357.20,132.36 L357.33,131.94 L357.46,131.65 L357.59,131.49 L357.72,131.45 L357.85,131.55 L357.98,131.78 L358.11,132.13 L358.23,132.62 L358.35,133.24 L358.46,134.01 L358.57,134.92 L358.68,136.00 L358.77,137.26 L358.86,138.72 L358.94,140.43 L359.00,142.45 L359.06,144.85 L359.11,147.78 L359.15,151.42 L359.18,155.70 L359.19,158.67 L359.20,159.00 L359.21,158.67 L359.22,155.71 L359.25,151.45 L359.29,147.83 L359.33,144.92 L359.39,142.54 L359.46,140.56 L359.53,138.89 L359.62,137.47 L359.71,136.26 L359.81,135.23 L359.91,134.37 L360.02,133.66 L360.14,133.09 L360.25,132.67 L360.37,132.37 L360.50,132.21 L360.62,132.18 L360.74,132.27 L360.86,132.50 L360.98,132.85 L361.09,133.33 L361.21,133.96 L361.31,134.72 L361.41,135.63 L361.51,136.71 L361.60,137.96 L361.68,139.43 L361.75,141.14 L361.82,143.15 L361.87,145.55 L361.92,148.48 L361.95,152.10 L361.98,156.32 L361.99,159.19 L362.00,159.50 L362.01,159.19 L362.02,156.33 L362.05,152.12 L362.08,148.52 L362.12,145.61 L362.18,143.24 L362.24,141.26 L362.31,139.59 L362.39,138.16 L362.47,136.95 L362.56,135.92 L362.66,135.06 L362.76,134.34 L362.87,133.78 L362.98,133.35 L363.09,133.05 L363.20,132.89 L363.32,132.85 L363.43,132.95 L363.54,133.17 L363.65,133.52 L363.76,134.01 L363.86,134.63 L363.96,135.39 L364.06,136.30 L364.14,137.38 L364.23,138.63 L364.30,140.09 L364.37,141.80 L364.43,143.81 L364.48,146.21 L364.52,149.13 L364.56,152.74 L364.58,156.92 L364.60,159.70 L364.60,160.00 L364.61,159.67 L364.62,156.87 L364.65,152.73 L364.68,149.15 L364.73,146.26 L364.78,143.89 L364.85,141.92 L364.92,140.25 L365.00,138.82 L365.09,137.61 L365.19,136.59 L365.29,135.72 L365.39,135.01 L365.50,134.45 L365.62,134.02 L365.73,133.72 L365.85,133.56 L365.97,133.52 L366.08,133.61 L366.20,133.82 L366.31,134.16 L366.43,134.62 L366.53,135.21 L366.64,135.91 L366.74,136.72 L366.83,137.63 L366.91,138.60 L366.99,139.57 L367.06,140.46 L367.12,141.16 L367.18,141.58 L367.22,141.74 L367.26,141.72 L367.28,141.62 L367.29,141.53 L367.30,141.50" stroke="#ff0000"/>
<path d="M57.30,53.80 L72.00,53.10 L86.80,52.70 L100.00,53.70 L108.20,55.10 L113.00,56.80 L117.30,58.70 L121.00,61.30 L124.50,64.80 L127.00,68.30 L129.40,73.20 L130.80,77.00 L131.80,80.00 L131.89,79.90 L132.17,78.65 L132.62,75.84 L133.25,72.84 L134.03,70.28 L134.97,68.19 L136.03,66.50 L137.22,65.12 L138.50,64.02 L139.87,63.14 L141.31,62.45 L142.80,61.95 L144.32,61.60 L145.87,61.40 L147.42,61.34 L148.97,61.42 L150.49,61.61 L151.99,61.93 L153.45,62.37 L154.86,62.92 L156.21,63.58 L157.51,64.37 L158.73,65.27 L159.88,66.29 L160.96,67.44 L161.95,68.72 L162.85,70.15 L163.67,71.74 L164.40,73.50 L165.03,75.43 L165.57,77.47 L166.01,79.45 L166.35,80.99 L166.60,81.78 L166.75,81.99 L166.80,82.00 L166.85,82.00 L167.01,81.83 L167.26,81.12 L167.62,79.75 L168.06,78.01 L168.60,76.26 L169.21,74.67 L169.90,73.29 L170.65,72.11 L171.47,71.12 L172.33,70.31 L173.23,69.67 L174.16,69.18 L175.11,68.84 L176.08,68.64 L177.06,68.63 L178.03,68.79 L178.99,69.07 L179.94,69.48 L180.86,70.01 L181.76,70.65 L182.62,71.41 L183.44,72.30 L184.22,73.30 L184.95,74.44 L185.63,75.71 L186.25,77.12 L186.81,78.69 L187.32,80.41 L187.76,82.29 L188.13,84.25 L188.44,86.11 L188.69,87.53 L188.86,88.26 L188.97,88.48 L189.00,88.50 L189.03,88.51 L189.14,88.40 L189.31,87.81 L189.54,86.58 L189.84,84.94 L190.19,83.23 L190.60,81.65 L191.07,80.26 L191.57,79.08 L192.12,78.09 L192.71,77.27 L193.33,76.62 L193.97,76.13 L194.63,75.78 L195.30,75.58 L195.98,75.52 L196.66,75.63 L197.34,75.87 L198.01,76.23 L198.67,76.72 L199.31,77.32 L199.93,78.05 L200.52,78.91 L201.09,79.89 L201.62,81.01 L202.11,82.28 L202.57,83.70 L202.98,85.31 L203.36,87.14 L203.68,89.22 L203.96,91.60 L204.19,94.29 L204.37,97.10 L204.50,99.30 L204.57,100.12 L204.60,100.20 L204.63,100.18 L204.70,99.49 L204.83,97.43 L205.01,94.75 L205.23,92.23 L205.50,90.07 L205.81,88.26 L206.16,86.75 L206.54,85.49 L206.96,84.45 L207.41,83.60 L207.88,82.92 L208.37,82.40 L208.88,82.04 L209.39,81.81 L209.92,81.72 L210.45,81.90 L210.98,82.22 L211.50,82.68 L212.01,83.25 L212.51,83.95 L213.00,84.77 L213.47,85.71 L213.91,86.77 L214.33,87.97 L214.72,89.32 L215.08,90.82 L215.41,92.51 L215.71,94.43 L215.97,96.63 L216.19,99.20 L216.37,102.32 L216.51,106.27 L216.62,111.57 L216.68,117.94 L216.70,119.50 L216.72,117.97 L216.78,111.69 L216.89,106.54 L217.03,102.81 L217.22,99.97 L217.44,97.72 L217.69,95.90 L217.98,94.42 L218.30,93.21 L218.64,92.23 L219.01,91.45 L219.40,90.85 L219.81,90.42 L220.23,90.14 L220.66,90.00 L221.10,90.00 L221.54,90.13 L221.98,90.38 L222.41,90.76 L222.85,91.26 L223.27,91.88 L223.67,92.63 L224.07,93.50 L224.44,94.50 L224.79,95.64 L225.12,96.92 L225.43,98.36 L225.71,99.98 L225.96,101.80 L226.18,103.86 L226.37,106.16 L226.52,108.63 L226.64,110.93 L226.73,112.37 L226.78,112.78 L226.80,112.80 L226.82,112.78 L226.87,112.36 L226.95,110.99 L227.06,108.87 L227.20,106.65 L227.37,104.63 L227.57,102.89 L227.80,101.42 L228.05,100.19 L228.32,99.17 L228.60,98.33 L228.91,97.67 L229.23,97.17 L229.56,96.81 L229.90,96.60 L230.24,96.53 L230.59,96.60 L230.94,96.82 L231.29,97.17 L231.63,97.64 L231.97,98.23 L232.29,98.95 L232.61,99.79 L232.90,100.77 L233.19,101.87 L233.45,103.12 L233.70,104.51 L233.92,106.08 L234.12,107.82 L234.30,109.73 L234.45,111.77 L234.57,113.78 L234.67,115.38 L234.74,116.24 L234.79,116.48 L234.80,116.50 L234.81,116.51 L234.85,116.35 L234.92,115.63 L235.01,114.18 L235.12,112.37 L235.26,110.55 L235.42,108.90 L235.60,107.47 L235.80,106.25 L236.02,105.22 L236.25,104.38 L236.50,103.71 L236.76,103.19 L237.02,102.82 L237.30,102.59 L237.58,102.50 L237.86,102.54 L238.14,102.74 L238.43,103.11 L238.71,103.59 L238.98,104.21 L239.24,104.94 L239.50,105.81 L239.74,106.80 L239.98,107.93 L240.19,109.21 L240.39,110.65 L240.58,112.28 L240.74,114.13 L240.89,116.25 L241.01,118.70 L241.11,121.55 L241.20,124.74 L241.25,127.61 L241.29,128.88 L241.30,129.00 L241.31,128.92 L241.35,127.77 L241.42,125.03 L241.52,122.01 L241.64,119.39 L241.78,117.21 L241.95,115.42 L242.14,113.95 L242.35,112.73 L242.58,111.74 L242.82,110.95 L243.08,110.34 L243.35,109.89 L243.63,109.59 L243.92,109.44 L244.21,109.43 L244.51,109.55 L244.80,109.80 L245.10,110.21 L245.39,110.74 L245.68,111.39 L245.95,112.17 L246.22,113.08 L246.48,114.11 L246.72,115.28 L246.94,116.59 L247.15,118.07 L247.35,119.74 L247.52,121.63 L247.67,123.80 L247.80,126.33 L247.91,129.36 L247.99,133.05 L248.05,137.24 L248.09,139.99 L248.10,140.30 L248.11,140.04 L248.15,137.40 L248.22,133.33 L248.30,129.84 L248.42,127.06 L248.55,124.83 L248.71,123.02 L248.89,121.53 L249.08,120.32 L249.30,119.33 L249.53,118.54 L249.77,117.94 L250.02,117.50 L250.29,117.21 L250.56,117.07 L250.83,117.06 L251.11,117.18 L251.39,117.40 L251.67,117.76 L251.94,118.23 L252.21,118.83 L252.47,119.56 L252.73,120.41 L252.97,121.40 L253.20,122.52 L253.41,123.80 L253.61,125.24 L253.79,126.87 L253.95,128.74 L254.09,130.89 L254.22,133.43 L254.32,136.53 L254.40,140.48 L254.45,145.92 L254.49,153.59 L254.50,156.40 L254.51,153.60 L254.55,146.02 L254.62,140.71 L254.71,136.93 L254.83,134.07 L254.97,131.80 L255.14,129.97 L255.33,128.46 L255.53,127.23 L255.76,126.22 L256.00,125.42 L256.25,124.79 L256.52,124.33 L256.79,124.02 L257.08,123.93 L257.37,124.19 L257.66,124.58 L257.95,125.10 L258.24,125.74 L258.53,126.51 L258.81,127.39 L259.08,128.39 L259.35,129.51 L259.60,130.74 L259.84,132.09 L260.06,133.57 L260.27,135.17 L260.46,136.90 L260.63,138.75 L260.78,140.67 L260.90,142.54 L261.01,144.10 L261.09,145.07 L261.15,145.45 L261.19,145.51 L261.20,145.50 L261.21,145.49 L261.22,145.40 L261.25,145.00 L261.30,144.14 L261.35,142.90 L261.41,141.49 L261.49,140.10 L261.57,138.83 L261.66,137.72 L261.77,136.78 L261.88,136.00 L261.99,135.38 L262.11,134.91 L262.24,134.58 L262.37,134.39 L262.50,134.34 L262.64,134.21 L262.77,134.20 L262.91,134.32 L263.04,134.56 L263.17,134.92 L263.30,135.40 L263.42,135.99 L263.54,136.70 L263.65,137.51 L263.76,138.41 L263.86,139.38 L263.95,140.38 L264.03,141.33 L264.10,142.16 L264.16,142.79 L264.21,143.18 L264.25,143.36 L264.28,143.41 L264.29,143.41 L264.30,143.40 L264.31,143.40 L264.34,143.40 L264.39,143.34 L264.46,143.16 L264.54,142.79 L264.65,142.22 L264.77,141.47 L264.91,140.63 L265.06,139.77 L265.23,138.95 L265.40,138.20 L265.59,137.55 L265.79,137.01 L265.99,136.58 L266.21,136.27 L266.42,136.08 L266.64,136.03 L266.86,136.16 L267.07,136.41 L267.29,136.78 L267.50,137.27 L267.70,137.86 L267.90,138.57 L268.09,139.39 L268.27,140.31 L268.44,141.32 L268.60,142.39 L268.74,143.51 L268.87,144.60 L268.98,145.59 L269.08,146.40 L269.16,146.96 L269.22,147.29 L269.26,147.44 L269.29,147.49 L269.30,147.50 L269.70,144.00 L270.30,141.80 L271.20,140.90 L272.40,140.70 L273.60,141.70 L274.80,143.30 L276.00,142.60 L277.20,141.90 L278.30,142.00 L279.60,143.20 L280.80,145.40 L281.70,148.50 L282.30,153.00 L282.60,160.00 L282.90,168.70 L282.92,168.56 L282.99,166.77 L283.09,163.29 L283.24,159.93 L283.43,157.14 L283.66,154.84 L283.92,152.94 L284.22,151.34 L284.55,150.00 L284.90,148.88 L285.29,147.95 L285.69,147.19 L286.11,146.58 L286.54,146.12 L286.98,145.81 L287.43,145.62 L287.89,145.57 L288.34,145.65 L288.79,145.84 L289.23,146.14 L289.67,146.57 L290.09,147.13 L290.49,147.83 L290.88,148.66 L291.24,149.64 L291.58,150.78 L291.89,152.09 L292.18,153.61 L292.44,155.37 L292.66,157.44 L292.85,159.90 L293.01,162.93 L293.14,166.83 L293.23,172.25 L293.28,180.09 L293.30,183.20 L293.32,180.10 L293.38,172.29 L293.47,166.92 L293.60,163.07 L293.77,160.13 L293.97,157.76 L294.20,155.81 L294.46,154.18 L294.75,152.81 L295.06,151.65 L295.39,150.68 L295.75,149.88 L296.11,149.23 L296.50,148.74 L296.89,148.38 L297.29,148.15 L297.69,148.06 L298.09,148.10 L298.49,148.30 L298.88,148.64 L299.26,149.10 L299.64,149.69 L300.00,150.42 L300.34,151.28 L300.66,152.28 L300.96,153.44 L301.24,154.78 L301.50,156.31 L301.73,158.08 L301.93,160.15 L302.10,162.58 L302.24,165.50 L302.36,168.99 L302.44,172.65 L302.48,174.63 L302.50,174.80 L302.52,174.62 L302.56,172.65 L302.64,169.06 L302.75,165.66 L302.89,162.85 L303.05,160.54 L303.24,158.63 L303.46,157.02 L303.70,155.66 L303.96,154.52 L304.23,153.57 L304.53,152.79 L304.83,152.17 L305.15,151.69 L305.48,151.35 L305.81,151.15 L306.15,151.08 L306.48,151.14 L306.82,151.33 L307.15,151.64 L307.47,152.08 L307.78,152.66 L308.08,153.36 L308.37,154.20 L308.64,155.19 L308.90,156.34 L309.14,157.66 L309.35,159.18 L309.55,160.93 L309.72,162.98 L309.86,165.39 L309.98,168.28 L310.08,171.70 L310.15,175.21 L310.19,177.03 L310.20,177.20 L310.21,177.05 L310.26,175.26 L310.33,171.81 L310.43,168.45 L310.56,165.66 L310.71,163.35 L310.89,161.43 L311.09,159.82 L311.31,158.46 L311.56,157.32 L311.81,156.36 L312.09,155.58 L312.38,154.95 L312.67,154.47 L312.98,154.12 L313.29,153.91 L313.60,153.82 L313.92,153.83 L314.23,153.98 L314.54,154.25 L314.84,154.66 L315.13,155.19 L315.41,155.86 L315.68,156.66 L315.94,157.62 L316.18,158.73 L316.40,160.03 L316.60,161.52 L316.79,163.26 L316.95,165.30 L317.08,167.74 L317.20,170.71 L317.28,174.44 L317.35,179.04 L317.39,182.72 L317.40,183.20 L317.41,182.73 L317.45,179.08 L317.51,174.50 L317.59,170.82 L317.69,167.90 L317.82,165.53 L317.96,163.57 L318.12,161.92 L318.30,160.53 L318.50,159.34 L318.71,158.34 L318.93,157.51 L319.17,156.84 L319.41,156.31 L319.66,155.92 L319.91,155.66 L320.17,155.54 L320.43,155.55 L320.68,155.68 L320.94,155.95 L321.19,156.34 L321.43,156.86 L321.66,157.52 L321.88,158.32 L322.09,159.27 L322.29,160.37 L322.47,161.66 L322.64,163.15 L322.79,164.89 L322.92,166.93 L323.04,169.37 L323.13,172.35 L323.20,176.15 L323.26,181.07 L323.29,185.75 L323.30,186.50 L323.31,185.76 L323.34,181.10 L323.40,176.21 L323.47,172.45 L323.57,169.51 L323.69,167.14 L323.82,165.18 L323.97,163.52 L324.14,162.13 L324.32,160.94 L324.52,159.94 L324.73,159.11 L324.94,158.44 L325.17,157.91 L325.40,157.51 L325.64,157.26 L325.88,157.13 L326.12,157.14 L326.36,157.29 L326.59,157.56 L326.82,157.96 L327.05,158.50 L327.27,159.17 L327.47,159.98 L327.67,160.93 L327.86,162.05 L328.03,163.34 L328.18,164.84 L328.32,166.59 L328.45,168.63 L328.55,171.07 L328.64,174.06 L328.71,177.85 L328.76,182.70 L328.79,187.13 L328.80,187.80 L328.81,187.13 L328.84,182.72 L328.89,177.91 L328.96,174.17 L329.05,171.24 L329.16,168.88 L329.29,166.92 L329.43,165.27 L329.59,163.88 L329.76,162.71 L329.95,161.72 L330.15,160.90 L330.35,160.23 L330.56,159.71 L330.78,159.33 L331.01,159.09 L331.23,158.97 L331.46,158.99 L331.69,159.11 L331.91,159.36 L332.13,159.74 L332.34,160.26 L332.55,160.90 L332.74,161.69 L332.93,162.63 L333.11,163.72 L333.27,165.00 L333.42,166.48 L333.55,168.20 L333.67,170.22 L333.77,172.63 L333.85,175.53 L333.92,179.06 L333.96,182.92 L333.99,185.18 L334.00,185.40 L334.01,185.18 L334.03,182.92 L334.07,179.09 L334.13,175.60 L334.20,172.73 L334.28,170.38 L334.38,168.42 L334.50,166.76 L334.62,165.35 L334.75,164.15 L334.90,163.14 L335.05,162.29 L335.21,161.60 L335.38,161.05 L335.55,160.64 L335.73,160.36 L335.91,160.21 L336.09,160.19 L336.27,160.27 L336.44,160.48 L336.62,160.82 L336.78,161.29 L336.95,161.89 L337.10,162.64 L337.25,163.54 L337.39,164.60 L337.52,165.84 L337.64,167.29 L337.74,168.98 L337.83,170.96 L337.91,173.32 L337.98,176.13 L338.03,179.42 L338.07,182.64 L338.09,184.17 L338.10,184.30 L338.11,184.16 L338.13,182.62 L338.17,179.42 L338.23,176.14 L338.30,173.34 L338.39,171.00 L338.49,169.03 L338.61,167.36 L338.74,165.93 L338.87,164.71 L339.02,163.67 L339.18,162.80 L339.35,162.07 L339.52,161.50 L339.69,161.05 L339.87,160.74 L340.06,160.58 L340.24,160.57 L340.42,160.68 L340.60,160.93 L340.78,161.30 L340.95,161.81 L341.12,162.45 L341.28,163.23 L341.43,164.16 L341.57,165.25 L341.70,166.52 L341.82,167.99 L341.93,169.69 L342.03,171.68 L342.11,174.00 L342.18,176.71 L342.23,179.70 L342.27,182.22 L342.29,183.22 L342.30,183.30 L342.31,183.23 L342.33,182.25 L342.37,179.75 L342.42,176.79 L342.49,174.12 L342.57,171.84 L342.66,169.91 L342.77,168.27 L342.89,166.87 L343.02,165.68 L343.15,164.67 L343.30,163.83 L343.45,163.14 L343.61,162.59 L343.78,162.18 L343.94,161.91 L344.11,161.76 L344.28,161.74 L344.45,161.84 L344.62,162.07 L344.79,162.43 L344.95,162.92 L345.10,163.55 L345.25,164.31 L345.39,165.23 L345.52,166.31 L345.65,167.57 L345.76,169.04 L345.86,170.75 L345.95,172.75 L346.02,175.13 L346.09,178.01 L346.14,181.45 L346.17,185.10 L346.19,187.11 L346.20,187.30 L346.21,187.12 L346.23,185.14 L346.26,181.51 L346.31,178.07 L346.37,175.22 L346.45,172.87 L346.54,170.90 L346.63,169.23 L346.74,167.82 L346.86,166.61 L346.99,165.59 L347.12,164.73 L347.26,164.02 L347.41,163.46 L347.56,163.04 L347.72,162.75 L347.87,162.59 L348.03,162.56 L348.19,162.66 L348.34,162.90 L348.49,163.28 L348.64,163.78 L348.78,164.42 L348.92,165.21 L349.05,166.14 L349.17,167.23 L349.29,168.51 L349.39,169.99 L349.48,171.71 L349.57,173.74 L349.64,176.17 L349.69,179.15 L349.74,182.94 L349.77,187.86 L349.79,192.54 L349.80,193.30 L349.81,192.56 L349.83,187.89 L349.86,182.99 L349.90,179.22 L349.96,176.28 L350.03,173.90 L350.11,171.92 L350.20,170.26 L350.30,168.84 L350.40,167.64 L350.52,166.63 L350.64,165.78 L350.77,165.09 L350.91,164.54 L351.05,164.13 L351.19,163.85 L351.33,163.71 L351.47,163.69 L351.62,163.81 L351.76,164.05 L351.90,164.42 L352.04,164.93 L352.17,165.57 L352.29,166.35 L352.41,167.28 L352.52,168.37 L352.63,169.65 L352.72,171.13 L352.81,172.85 L352.88,174.89 L352.95,177.32 L353.00,180.33 L353.05,184.20 L353.08,189.51 L353.09,196.42 L353.10,198.40 L353.11,196.42 L353.13,189.53 L353.16,184.23 L353.20,180.39 L353.25,177.43 L353.32,175.04 L353.40,173.06 L353.48,171.40 L353.58,169.98 L353.69,168.78 L353.80,167.77 L353.92,166.92 L354.04,166.23 L354.17,165.69 L354.31,165.28 L354.44,165.00 L354.58,164.86 L354.72,164.83 L354.86,164.94 L355.00,165.17 L355.14,165.53 L355.27,166.02 L355.39,166.65 L355.52,167.42 L355.63,168.34 L355.74,169.42 L355.84,170.68 L355.93,172.14 L356.02,173.85 L356.09,175.85 L356.15,178.22 L356.21,181.06 L356.25,184.38 L356.28,187.64 L356.29,189.18 L356.30,189.30 L356.31,189.16 L356.32,187.59 L356.35,184.36 L356.39,181.08 L356.44,178.28 L356.51,175.95 L356.58,174.00 L356.66,172.34 L356.75,170.92 L356.85,169.72 L356.95,168.70 L357.07,167.84 L357.18,167.14 L357.30,166.58 L357.43,166.16 L357.56,165.87 L357.69,165.72 L357.82,165.70 L357.95,165.80 L358.08,166.04 L358.21,166.40 L358.33,166.90 L358.45,167.53 L358.56,168.30 L358.67,169.22 L358.78,170.30 L358.87,171.56 L358.96,173.02 L359.04,174.72 L359.10,176.70 L359.16,179.02 L359.21,181.73 L359.25,184.71 L359.28,187.23 L359.29,188.22 L359.30,188.30 L359.31,188.24 L359.32,187.28 L359.35,184.78 L359.39,181.81 L359.43,179.13 L359.49,176.84 L359.56,174.90 L359.63,173.25 L359.72,171.84 L359.81,170.64 L359.91,169.62 L360.01,168.77 L360.12,168.07 L360.24,167.51 L360.35,167.09 L360.47,166.80 L360.60,166.64 L360.72,166.60 L360.84,166.70 L360.96,166.92 L361.08,167.27 L361.19,167.76 L361.31,168.38 L361.41,169.14 L361.51,170.06 L361.61,171.13 L361.70,172.39 L361.78,173.86 L361.85,175.57 L361.92,177.59 L361.97,180.01 L362.02,182.98 L362.05,186.78 L362.08,191.73 L362.09,196.58 L362.10,197.40 L362.11,196.59 L362.12,191.75 L362.15,186.81 L362.18,183.03 L362.22,180.07 L362.28,177.68 L362.34,175.69 L362.41,174.02 L362.49,172.59 L362.57,171.38 L362.66,170.35 L362.76,169.48 L362.86,168.77 L362.97,168.20 L363.08,167.77 L363.19,167.48 L363.30,167.32 L363.42,167.29 L363.53,167.39 L363.64,167.62 L363.75,167.97 L363.86,168.46 L363.96,169.09 L364.06,169.85 L364.16,170.77 L364.24,171.85 L364.33,173.11 L364.40,174.57 L364.47,176.29 L364.53,178.30 L364.58,180.72 L364.62,183.68 L364.66,187.41 L364.68,192.06 L364.70,195.89 L364.70,196.40 L364.71,195.86 L364.72,192.03 L364.75,187.41 L364.78,183.71 L364.82,180.78 L364.88,178.40 L364.94,176.42 L365.01,174.75 L365.09,173.33 L365.17,172.12 L365.26,171.09 L365.36,170.23 L365.46,169.52 L365.57,168.96 L365.68,168.54 L365.79,168.24 L365.90,168.08 L366.02,168.05 L366.13,168.14 L366.24,168.36 L366.35,168.70 L366.46,169.17 L366.56,169.77 L366.66,170.48 L366.76,171.32 L366.84,172.25 L366.93,173.26 L367.00,174.30 L367.07,175.26 L367.13,176.04 L367.18,176.53 L367.22,176.73 L367.26,176.73 L367.28,176.63 L367.30,176.54 L367.30,176.50" stroke="#0000ff"/>
</g>
<g fill="#000" font-size="10.5">
<text x="15.0" y="37.7" textLength="28.0" lengthAdjust="spacingAndGlyphs">0.100</text>
<text x="15.0" y="69.3" textLength="28.0" lengthAdjust="spacingAndGlyphs">0.001</text>
<text x="21.3" y="100.9" textLength="12.0" lengthAdjust="spacingAndGlyphs">10</text>
<text x="33.7" y="96.6" font-size="7.7" textLength="9.1" lengthAdjust="spacingAndGlyphs">−5</text>
<text x="21.3" y="132.5" textLength="12.0" lengthAdjust="spacingAndGlyphs">10</text>
<text x="33.7" y="128.2" font-size="7.7" textLength="9.1" lengthAdjust="spacingAndGlyphs">−7</text>
<text x="21.3" y="164.1" textLength="12.0" lengthAdjust="spacingAndGlyphs">10</text>
<text x="33.7" y="159.8" font-size="7.7" textLength="9.1" lengthAdjust="spacingAndGlyphs">−9</text>
<text x="16.0" y="195.8" textLength="12.0" lengthAdjust="spacingAndGlyphs">10</text>
<text x="28.4" y="191.4" font-size="7.7" textLength="14.4" lengthAdjust="spacingAndGlyphs">−11</text>
<text x="118.7" y="230.5" textLength="5.6" lengthAdjust="spacingAndGlyphs">5</text>
<text x="154.7" y="230.5" textLength="11.6" lengthAdjust="spacingAndGlyphs">10</text>
<text x="244.6" y="230.5" textLength="11.8" lengthAdjust="spacingAndGlyphs">50</text>
<text x="280.8" y="230.5" textLength="17.4" lengthAdjust="spacingAndGlyphs">100</text>
<text x="207.6" y="248.3" textLength="4.0" lengthAdjust="spacingAndGlyphs">t</text>
<text transform="translate(9.7,133.8) rotate(-90)" textLength="36.4" lengthAdjust="spacingAndGlyphs">Log(|<tspan font-style="italic">ϕ</tspan>|)</text>
</g>
<g fill="#000" font-size="10.5">
<text x="113.3" y="9.3" textLength="2.6" lengthAdjust="spacingAndGlyphs" >l</text>
<text x="116.7" y="9.3" textLength="8.0" lengthAdjust="spacingAndGlyphs" >=</text>
<text x="126.1" y="9.3" textLength="6.7" lengthAdjust="spacingAndGlyphs" >1</text>
<text x="133.3" y="9.3" textLength="3.2" lengthAdjust="spacingAndGlyphs" >,</text>
<text x="139.6" y="9.3" textLength="6.8" lengthAdjust="spacingAndGlyphs" font-style="italic">β</text>
<text x="147.7" y="9.3" textLength="8.0" lengthAdjust="spacingAndGlyphs" >=</text>
<text x="156.5" y="9.3" textLength="6.7" lengthAdjust="spacingAndGlyphs" >1</text>
<text x="163.7" y="9.3" textLength="3.2" lengthAdjust="spacingAndGlyphs" >,</text>
<text x="171.6" y="9.3" textLength="6.0" lengthAdjust="spacingAndGlyphs" font-style="italic">μ</text>
<text x="178.8" y="9.3" textLength="8.0" lengthAdjust="spacingAndGlyphs" >=</text>
<text x="187.6" y="9.3" textLength="28.0" lengthAdjust="spacingAndGlyphs" >0.03,</text>
<text x="220.2" y="9.3" textLength="7.4" lengthAdjust="spacingAndGlyphs" font-style="italic">σ</text>
<text x="229.4" y="12.1" font-size="7.4" font-style="italic" textLength="5.4" lengthAdjust="spacingAndGlyphs">F</text>
<text x="235.3" y="9.3" textLength="8.0" lengthAdjust="spacingAndGlyphs" >=</text>
<text x="243.9" y="9.3" textLength="21.0" lengthAdjust="spacingAndGlyphs" >0.4,</text>
<rect x="271.1" y="0.4" width="1" height="11.4"/>
<text x="273.8" y="9.3" textLength="7.4" lengthAdjust="spacingAndGlyphs" font-style="italic">U</text>
<text x="281.0" y="11.8" font-size="7.8" font-style="italic" textLength="4.4" lengthAdjust="spacingAndGlyphs">s</text>
<rect x="287.3" y="0.4" width="1" height="11.4"/>
<text x="289.6" y="9.3" textLength="7.4" lengthAdjust="spacingAndGlyphs" >=</text>
<text x="297.5" y="9.3" textLength="6.7" lengthAdjust="spacingAndGlyphs" >1</text>
</g>
<rect x="262.8" y="27.5" width="103.8" height="46.0" fill="#fff" stroke="#1a1a1a" stroke-width="1"/>
<path d="M266,33.5 L276.6,33.5" stroke="#00ff00" stroke-width="1.3"/>
<path d="M266,49.8 L276.6,49.8" stroke="#ff0000" stroke-width="1.3"/>
<path d="M266,65.8 L276.6,65.8" stroke="#0000ff" stroke-width="1.3"/>
<g fill="#000" font-size="10.5">
<text x="282.2" y="37.5" textLength="55.8" lengthAdjust="spacingAndGlyphs">Source free</text>
<text x="282.2" y="53.6" textLength="80.9" lengthAdjust="spacingAndGlyphs">Outgoing Source</text>
<text x="282.2" y="69.7" textLength="71.9" lengthAdjust="spacingAndGlyphs">Ingoing Source</text>
</g>
</svg>
</body></html>
